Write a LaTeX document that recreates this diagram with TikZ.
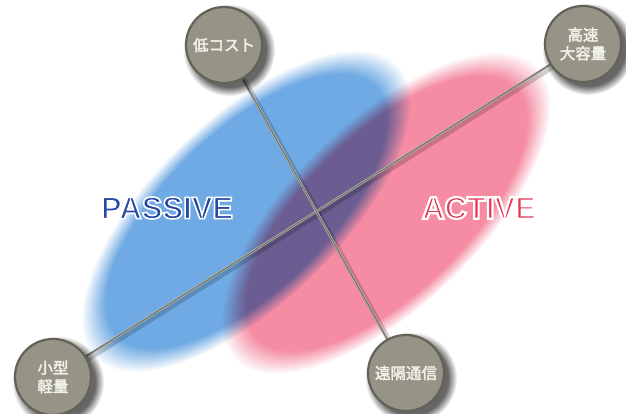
\documentclass[tikz,border=0pt]{standalone}
\usepackage{fontspec}
\setmainfont{Liberation Sans}
\newfontfamily\jp{Noto Sans CJK JP}[FakeBold=2.5]
\usetikzlibrary{fadings}
\definecolor{bluefill}{RGB}{112,170,228}
\definecolor{pinkfill}{RGB}{245,140,163}
\definecolor{ballfill}{RGB}{150,148,134}
\definecolor{balledge}{RGB}{100,98,87}
\definecolor{passivec}{RGB}{38,72,160}
\definecolor{activec}{RGB}{228,52,85}
\definecolor{linelight}{RGB}{190,190,180}
\definecolor{linedark}{RGB}{112,112,102}
\newcommand{\outlined}[2]{\special{pdf:literal direct 1 1 1 RG #1 w 2 Tr}#2\special{pdf:literal direct 0 Tr}}
\pgfdeclarelayer{bg}
\pgfdeclarelayer{lines}
\pgfdeclarelayer{shadows}
\pgfsetlayers{bg,lines,shadows,main}
\begin{document}
\begin{tikzpicture}[x=1pt,y=1pt,
  ball/.style={circle, minimum size=76pt, inner sep=0pt, fill=ballfill, draw=balledge, line width=2.2pt,
    text={rgb,255:red,240;green,240;blue,232}, font=\jp\fontsize{15.5}{18.5}\selectfont, align=center},
  bigword/.style={font=\fontsize{31}{31}\selectfont\bfseries, inner sep=0pt},
  connector/.style={linelight, line width=2.4pt},
  connectorcore/.style={linedark, line width=1.1pt},
  lineshadow/.style={black, opacity=0.18, line width=5pt, transform canvas={shift={(2.5pt,-2.5pt)}}}
]
\useasboundingbox (0,0) rectangle (626,414);

% balls
\node[ball] (low)  at (224,369) {低コスト};
\node[ball] (fast) at (583,370) {高速\\大容量};
\node[ball] (small) at (53,37) {小型\\軽量};
\node[ball] (remote) at (406,41) {遠隔通信};

% ellipses
\begin{pgfonlayer}{bg}
\fill[white] (0,0) rectangle (626,414);
\begin{scope}[blend mode=multiply]
\begin{scope}[transform canvas={shift={(246pt,203pt)},rotate=44}]
\fill[bluefill, path fading=circle with fuzzy edge 15 percent] (0,0) ellipse [x radius=210pt, y radius=93pt];
\end{scope}
\begin{scope}[transform canvas={shift={(386pt,201pt)},rotate=44}]
\fill[pinkfill, path fading=circle with fuzzy edge 15 percent] (0,0) ellipse [x radius=210pt, y radius=93pt];
\end{scope}
\end{scope}
\node[bigword, passivec] (passive) at (167,206) {\outlined{1.6}{PASSIVE}};
\node[bigword, activec] (active) at (479,206) {\outlined{2.2}{ACTIVE}};
\end{pgfonlayer}

% connectors
\begin{pgfonlayer}{lines}
\draw[lineshadow] (small.center) -- (fast.center);
\draw[lineshadow] (low.center) -- (remote.center);
\draw[connector] (small.center) -- (fast.center);
\draw[connectorcore] (small.center) -- (fast.center);
\draw[connector] (low.center) -- (remote.center);
\draw[connectorcore] (low.center) -- (remote.center);
\end{pgfonlayer}

% ball shadows
\begin{pgfonlayer}{shadows}
\foreach \n in {low,fast,small,remote}{
  \begin{scope}[transform canvas={shift={(5pt,-5pt)}}]
  \fill[black, opacity=0.6, path fading=circle with fuzzy edge 20 percent] (\n.center) circle (46pt);
  \end{scope}
}
\end{pgfonlayer}
\end{tikzpicture}
\end{document}
